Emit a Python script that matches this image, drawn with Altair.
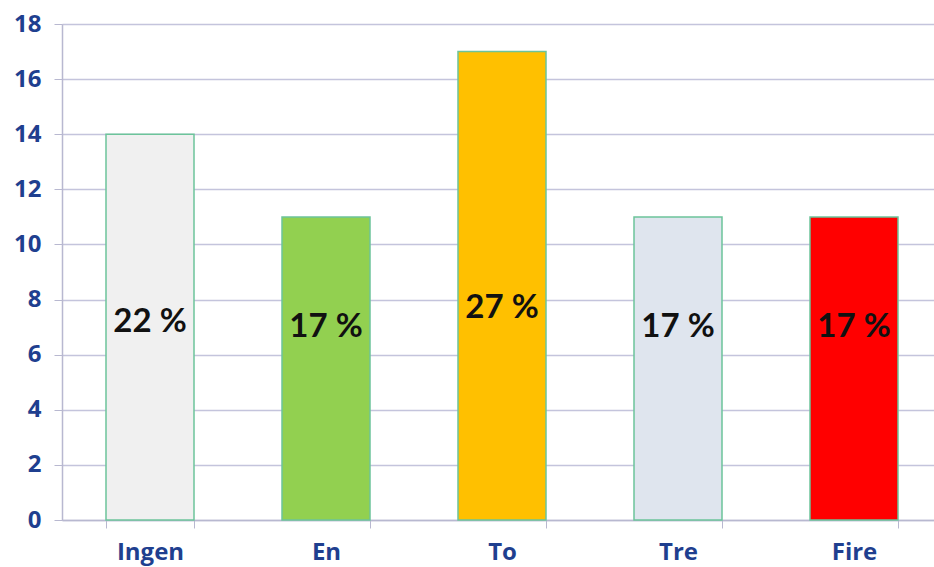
import altair as alt
import pandas as pd

categories = ["Ingen", "En", "To", "Tre", "Fire"]
values = [14, 11, 17, 11, 11]
labels = ["22 %", "17 %", "27 %", "17 %", "17 %"]
label_pos = [7.2, 7.0, 7.7, 7.0, 7.0]
colors = ["#f0f0f0", "#92d050", "#ffc000", "#dfe5ee", "#ff0000"]

df = pd.DataFrame({"cat": categories, "val": values, "lab": labels,
                   "pos": label_pos, "col": colors})

x = alt.X("cat:N", sort=categories, title=None,
          scale=alt.Scale(range=[0, 880], paddingInner=0.5, paddingOuter=0.25),
          axis=alt.Axis(labelAngle=0, labelFont="Open Sans", labelFontWeight="bold",
                        labelFontSize=24, labelColor="#1f3f8f", labelPadding=12,
                        tickBand="extent", tickSize=8, tickColor="#b8b8d0",
                        domainColor="#b8b8d0", domainWidth=1.5, grid=False))

bars = alt.Chart(df).mark_bar(stroke="#6cc49a", strokeWidth=1.5).encode(
    x=x,
    y=alt.Y("val:Q", title=None,
            scale=alt.Scale(domain=[0, 18], nice=False),
            axis=alt.Axis(values=list(range(0, 19, 2)), labelFont="Open Sans",
                          labelFontWeight="bold", labelFontSize=24,
                          labelColor="#1f3f8f", labelPadding=13, tickSize=8,
                          tickColor="#b8b8d0", domainColor="#b8b8d0",
                          domainWidth=1.5, gridColor="#c4c4dc", gridWidth=1.5)),
    fill=alt.Fill("col:N", scale=None),
)

text = alt.Chart(df).mark_text(font="Lato", fontWeight="bold", fontSize=33,
                               color="#111111").encode(
    x=alt.X("cat:N", sort=categories),
    y=alt.Y("pos:Q"),
    text="lab:N",
)

chart = alt.layer(bars, text).properties(
    width=872, height=496,
    padding={"left": 62, "top": 24, "right": 0, "bottom": 47},
    autosize=alt.AutoSizeParams(type="none"),
).configure_view(stroke=None).configure(background="white")

chart.save("out.html", embed_options={"renderer": "svg", "actions": False})
